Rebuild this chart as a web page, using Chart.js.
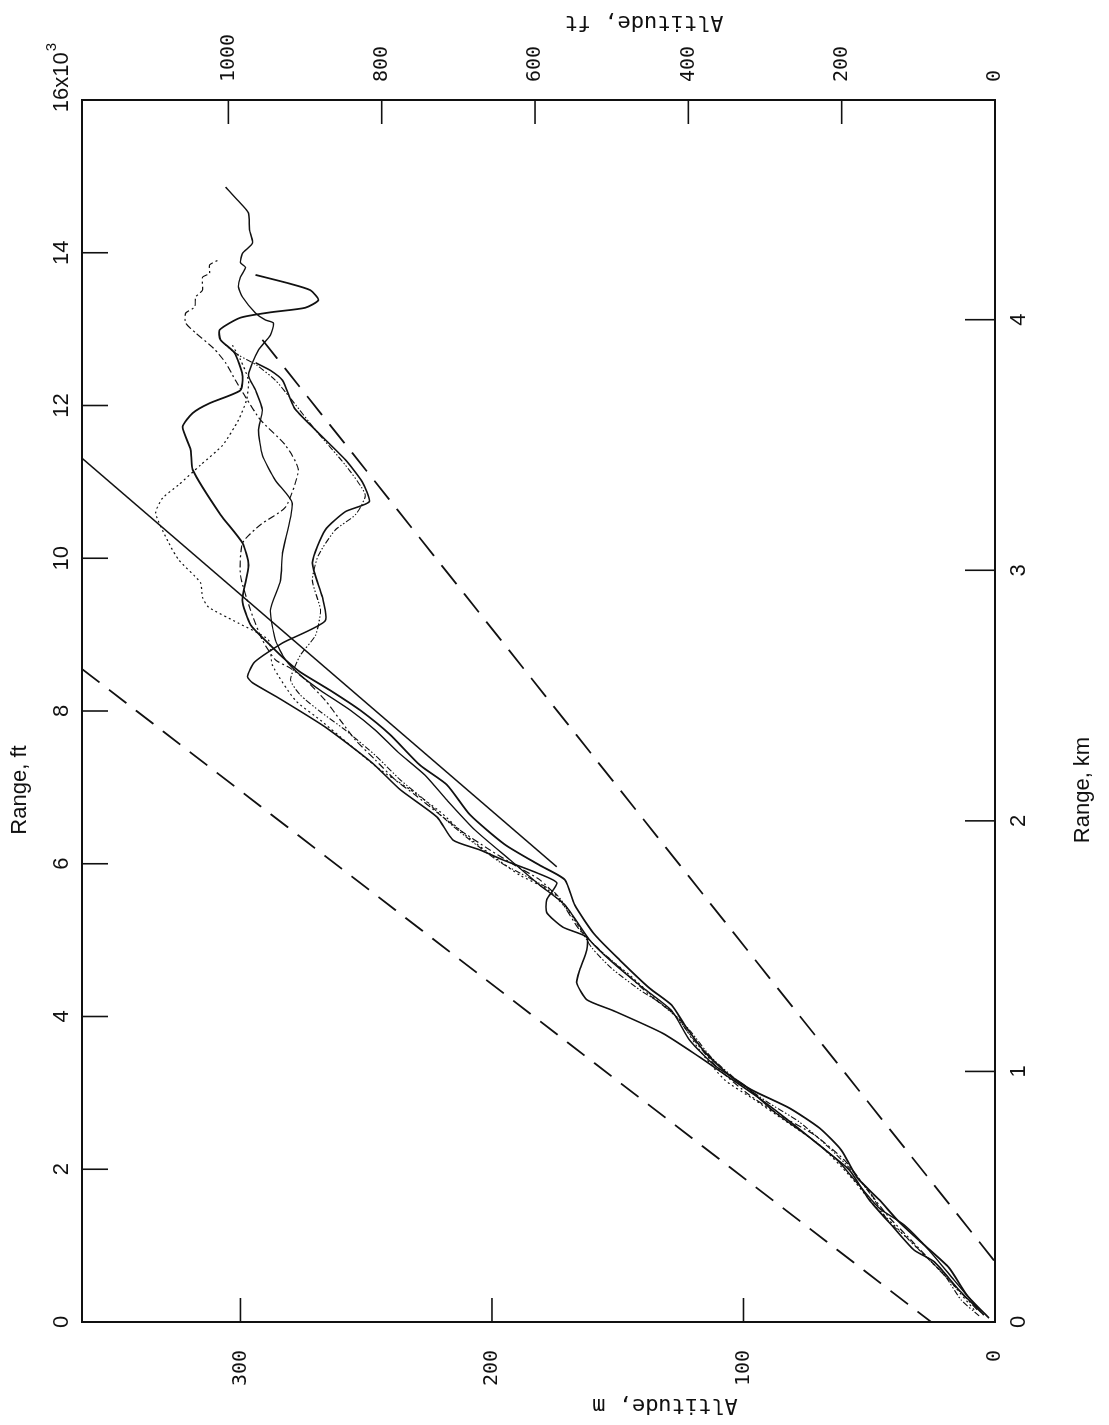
<!DOCTYPE html>
<html><head><meta charset="utf-8">
<script src="https://cdn.jsdelivr.net/npm/chart.js@4.4.1/dist/chart.umd.min.js"></script>
<style>
html,body{margin:0;padding:0;background:#fff;width:1109px;height:1425px;overflow:hidden;}
#wrap{position:absolute;left:-158px;top:158px;width:1425px;height:1109px;transform:rotate(-90deg);transform-origin:50% 50%;background:#fff;}
canvas{display:block}
</style></head><body>
<div id="wrap"><canvas id="c" width="1425" height="1109"></canvas></div>
<script>
// ---- axis ticks ----
const rangeFtTicks = [0,2,4,6,8,10,12,14,16];        // x10^3 ft
const rangeKmTicks = [0,1,2,3,4];
const altMTicks = [0,100,200,300];
const altFtTicks = [0,200,400,600,800,1000];
const rangeFtMax = 16;                 // x10^3 ft
const rangeKmMax = 16 * 0.3048;        // km
const altMMax = 363;                   // m
const altFtMax = altMMax / 0.3048;     // ft

// ---- reference lines [altitude m, range 10^3 ft] ----
const lowerBound = [[363,8.55],[25.4,0]];
const upperBound = [[291.3,12.86],[0,0.79]];
const nominalPath = [[363,11.31],[174.2,5.96]];

// ---- tracks [altitude m, range 10^3 ft] ----
const trackA = [[2.4,0.05],[11.1,0.35],[18.3,0.71],[28.2,1.01],[38.1,1.31],[46.0,1.60],[54.8,1.89],[61.1,2.25],[69.8,2.54],[81.7,2.80],[96.8,3.04],[105.6,3.23],[115.5,3.54],[123.4,3.89],[128.6,4.15],[137.3,4.37],[149.2,4.74],[159.1,5.07],[167.1,5.46],[171.0,5.79],[181.0,5.98],[194.8,6.25],[208.7,6.64],[217.8,7.03],[228.6,7.29],[240.5,7.69],[252.4,8.01],[264.3,8.27],[276.2,8.51],[282.1,8.67],[288.1,8.86],[296.0,9.13],[299.2,9.45],[296.8,9.91],[299.2,10.20],[307.9,10.57],[319.0,11.16],[319.8,11.42],[323.0,11.72],[319.0,11.90],[312.3,12.03],[300.0,12.20],[299.2,12.40],[302.4,12.69],[307.9,12.86],[308.3,12.99],[300.0,13.15],[288.1,13.22],[274.2,13.28],[269.0,13.38],[272.2,13.51],[280.9,13.60],[294.0,13.71]];
const trackB = [[4.4,0.09],[14.3,0.42],[24.2,0.79],[32.1,0.94],[40.1,1.23],[50.0,1.60],[57.9,1.99],[67.5,2.25],[79.8,2.58],[93.7,2.93],[108.3,3.26],[117.5,3.47],[132.1,3.78],[152.0,4.08],[162.3,4.22],[166.3,4.44],[165.1,4.61],[162.3,4.87],[162.3,5.04],[171.8,5.17],[178.2,5.36],[178.2,5.53],[174.2,5.75],[182.1,5.88],[195.6,6.05],[204.7,6.18],[215.5,6.31],[221.8,6.61],[236.5,6.97],[247.6,7.32],[266.3,7.79],[285.3,8.18],[295.2,8.37],[297.2,8.45],[294.4,8.64],[283.3,8.89],[266.3,9.18],[267.4,9.49],[271.4,9.94],[266.3,10.37],[258.3,10.61],[248.8,10.74],[251.6,11.00],[258.3,11.29],[270.2,11.68],[278.6,11.97],[283.3,12.33],[288.1,12.46],[294.0,12.56]];
const trackC = [[5.6,0.13],[16.3,0.55],[26.2,0.94],[36.1,1.27],[46.0,1.49],[54.0,1.79],[62.7,2.12],[73.8,2.42],[87.7,2.75],[99.6,3.10],[111.5,3.36],[121.4,3.69],[128.6,4.08],[141.3,4.41],[153.2,4.74],[161.1,5.00],[171.0,5.46],[181.0,5.72],[192.8,6.05],[206.7,6.44],[217.8,6.83],[226.6,7.16],[237.3,7.46],[246.4,7.75],[256.3,8.01],[268.2,8.27],[276.2,8.47],[282.1,8.67],[286.1,8.93],[288.1,9.32],[284.1,9.71],[283.3,10.07],[279.4,10.72],[286.1,11.02],[291.3,11.35],[292.8,11.68],[291.3,11.94],[294.0,12.20],[296.8,12.40],[292.8,12.73],[288.1,12.92],[286.9,13.08],[290.1,13.12],[294.0,13.21],[299.2,13.42],[300.8,13.55],[300.0,13.68],[298.0,13.81],[300.0,13.87],[299.2,13.99],[295.2,14.13],[296.4,14.30],[296.8,14.52],[301.2,14.69],[305.9,14.86]];
const trackD = [[7.1,0.16],[16.3,0.48],[23.0,0.71],[33.3,1.07],[42.9,1.40],[52.0,1.79],[59.9,2.12],[71.8,2.45],[85.7,2.71],[97.6,2.97],[109.5,3.30],[118.2,3.63],[127.4,4.02],[137.3,4.28],[147.2,4.58],[157.1,4.87],[165.1,5.13],[173.0,5.53],[181.0,5.79],[190.9,5.98],[200.8,6.18],[212.7,6.44],[220.6,6.64],[230.5,6.90],[238.5,7.10],[246.4,7.36],[254.3,7.62],[260.3,7.88],[266.3,8.14],[274.2,8.41],[280.1,8.56],[286.1,8.67],[291.3,8.93],[296.0,9.32],[300.0,9.78],[299.2,10.20],[292.0,10.44],[282.1,10.67],[277.0,11.16],[282.1,11.48],[292.0,11.81],[298.0,12.11],[302.0,12.33],[305.9,12.56],[310.7,12.75],[317.8,12.95],[321.8,13.08],[321.8,13.21],[318.2,13.29],[317.8,13.42],[315.1,13.51],[315.1,13.68],[312.3,13.73],[312.3,13.84],[309.1,13.90]];
const trackE = [[8.3,0.16],[18.3,0.55],[28.2,0.88],[38.1,1.20],[48.0,1.53],[57.9,1.92],[69.8,2.32],[83.7,2.64],[95.6,2.91],[107.5,3.17],[117.5,3.56],[125.4,3.95],[135.3,4.24],[145.2,4.54],[155.2,4.81],[163.1,5.07],[169.8,5.39],[177.8,5.66],[188.9,5.85],[198.8,6.08],[210.7,6.38],[220.6,6.68],[232.5,6.97],[244.4,7.23],[256.3,7.55],[268.2,7.88],[278.2,8.14],[287.3,8.60],[288.9,8.93],[300.8,9.15],[312.7,9.36],[315.1,9.49],[315.9,9.68],[324.6,9.98],[328.5,10.20],[333.7,10.59],[330.9,10.79],[324.6,10.96],[315.9,11.22],[307.1,11.48],[300.8,11.81],[297.6,12.07],[296.8,12.33],[300.0,12.60],[303.2,12.79]];
const trackF = [[6.3,0.08],[13.5,0.29],[20.2,0.62],[27.0,0.84],[34.9,1.10],[42.1,1.31],[49.2,1.66],[57.1,1.99],[65.9,2.28],[77.8,2.62],[90.5,2.88],[101.6,3.14],[112.7,3.46],[121.4,3.82],[130.2,4.11],[141.3,4.35],[152.4,4.63],[160.3,4.90],[168.2,5.33],[175.0,5.62],[184.9,5.81],[196.8,6.02],[208.7,6.31],[217.5,6.55],[226.6,6.83],[236.5,7.10],[246.4,7.42],[258.3,7.75],[268.2,7.99],[276.2,8.21],[280.1,8.41],[276.2,8.73],[270.2,8.99],[268.2,9.32],[271.4,9.71],[269.0,10.04],[262.3,10.37],[254.3,10.57],[250.4,10.83],[258.3,11.22],[270.2,11.68],[280.5,12.11],[286.1,12.33],[293.6,12.53],[300.8,12.66],[305.9,12.79]];

const toXY = arr => arr.map(p => ({x: p[1], y: p[0]}));
const INK = '#111';

function lineDs(arr, width, dash, tension) {
  return {data: toXY(arr), showLine: true, borderColor: INK, borderWidth: width,
    borderDash: dash, pointRadius: 0, tension: tension, fill: false,
    xAxisID: 'x', yAxisID: 'y'};
}

const datasets = [
  lineDs(lowerBound, 1.8, [22,12], 0),
  lineDs(upperBound, 1.8, [24,12], 0),
  lineDs(nominalPath, 1.5, [], 0),
  lineDs(trackA, 1.8, [], 0.2),
  lineDs(trackB, 1.6, [], 0.2),
  lineDs(trackC, 1.4, [], 0.2),
  lineDs(trackD, 1.2, [7,3,2,3], 0.2),
  lineDs(trackE, 1.2, [2,3], 0.2),
  lineDs(trackF, 1.1, [6,2,1.5,2,1.5,2], 0.2)
];

const sansFont = {family: '"Liberation Sans", Arial, sans-serif', size: 22};
const monoFont = {family: '"DejaVu Sans Mono", "Liberation Mono", monospace', size: 20};

function setTicks(list) { return s => { s.ticks = list.map(v => ({value: v})); }; }

const noGrid = {display: false, drawTicks: false, tickLength: 0};
const frame = {display: true, color: INK, width: 2};

const inwardTicks = {
  id: 'inwardTicks',
  afterDatasetsDraw(chart) {
    const {ctx, chartArea: a, scales} = chart;
    ctx.save();
    ctx.strokeStyle = INK; ctx.lineWidth = 1.6;
    const seg = (x1,y1,x2,y2) => { ctx.beginPath(); ctx.moveTo(x1,y1); ctx.lineTo(x2,y2); ctx.stroke(); };
    scales.x.ticks.forEach(t => { const p = scales.x.getPixelForValue(t.value); seg(p, a.top, p, a.top + 26); });
    scales.x2.ticks.forEach(t => { const p = scales.x2.getPixelForValue(t.value); seg(p, a.bottom, p, a.bottom - 30); });
    scales.y.ticks.forEach(t => { const p = scales.y.getPixelForValue(t.value); seg(a.left, p, a.left + 24, p); });
    scales.y2.ticks.forEach(t => { const p = scales.y2.getPixelForValue(t.value); seg(a.right, p, a.right - 24, p); });
    ctx.restore();
  }
};

const axisTitles = {
  id: 'axisTitles',
  afterDraw(chart) {
    const {ctx, chartArea: a, scales} = chart;
    const put = (txt, x, y, rot, font) => {
      ctx.save(); ctx.translate(x, y); ctx.rotate(rot);
      ctx.font = font; ctx.fillStyle = INK; ctx.textAlign = 'center'; ctx.textBaseline = 'middle';
      ctx.fillText(txt, 0, 0); ctx.restore();
    };
    const sf = '22px "Liberation Sans", Arial, sans-serif';
    const mf = '22px "DejaVu Sans Mono", "Liberation Mono", monospace';
    put('Range, ft', a.left + 532, a.top - 62, 0, sf);
    put('Range, km', a.left + 532, a.bottom + 88, 0, sf);
    put('Altitude, m', a.left - 83, a.top + 583, -Math.PI/2, mf);
    put('Altitude, ft', a.right + 78, a.top + 562, -Math.PI/2, mf);
    // exponent after the last range tick label
    const p = scales.x.getPixelForValue(16);
    ctx.save(); ctx.fillStyle = INK; ctx.textBaseline = 'middle';
    ctx.font = sf;
    const w16 = ctx.measureText('16').width;
    const yLab = a.top - 7 - 13.2;
    ctx.textAlign = 'left';
    const xs = p + w16/2;
    ctx.fillText('x10', xs, yLab);
    const wx = ctx.measureText('x10').width;
    ctx.font = '15px "Liberation Sans", Arial, sans-serif';
    ctx.fillText('3', xs + wx + 1, yLab - 10);
    ctx.restore();
  }
};

const whiteBg = {
  id: 'whiteBg',
  beforeDraw(chart) { const c = chart.ctx; c.save(); c.fillStyle = '#fff'; c.fillRect(0,0,chart.width,chart.height); c.restore(); }
};

new Chart(document.getElementById('c'), {
  type: 'scatter',
  data: {datasets},
  plugins: [whiteBg, inwardTicks, axisTitles],
  options: {
    responsive: false, animation: false,
    layout: {padding: 0},
    plugins: {legend: {display: false}, tooltip: {enabled: false}},
    scales: {
      x: {type: 'linear', position: 'top', min: 0, max: rangeFtMax,
          afterBuildTicks: setTicks(rangeFtTicks), afterFit: s => { s.height = 82; },
          grid: noGrid, border: frame,
          ticks: {color: INK, font: sansFont, padding: 7, maxRotation: 0, minRotation: 0, autoSkip: false,
                  callback: v => String(v)}},
      x2: {type: 'linear', position: 'bottom', min: 0, max: rangeKmMax,
          afterBuildTicks: setTicks(rangeKmTicks), afterFit: s => { s.height = 114; },
          grid: noGrid, border: frame,
          ticks: {color: INK, font: sansFont, padding: 11, maxRotation: 0, minRotation: 0, autoSkip: false,
                  callback: v => String(v)}},
      y: {type: 'linear', position: 'left', min: 0, max: altMMax,
          afterBuildTicks: setTicks(altMTicks), afterFit: s => { s.width = 103; },
          grid: noGrid, border: frame,
          ticks: {color: INK, font: monoFont, padding: 28, autoSkip: false, callback: v => String(v)}},
      y2: {type: 'linear', position: 'right', min: 0, max: altFtMax,
          afterBuildTicks: setTicks(altFtTicks), afterFit: s => { s.width = 100; },
          grid: noGrid, border: frame,
          ticks: {color: INK, font: monoFont, padding: 18, autoSkip: false, callback: v => String(v)}}
    }
  }
});
</script>
</body></html>
